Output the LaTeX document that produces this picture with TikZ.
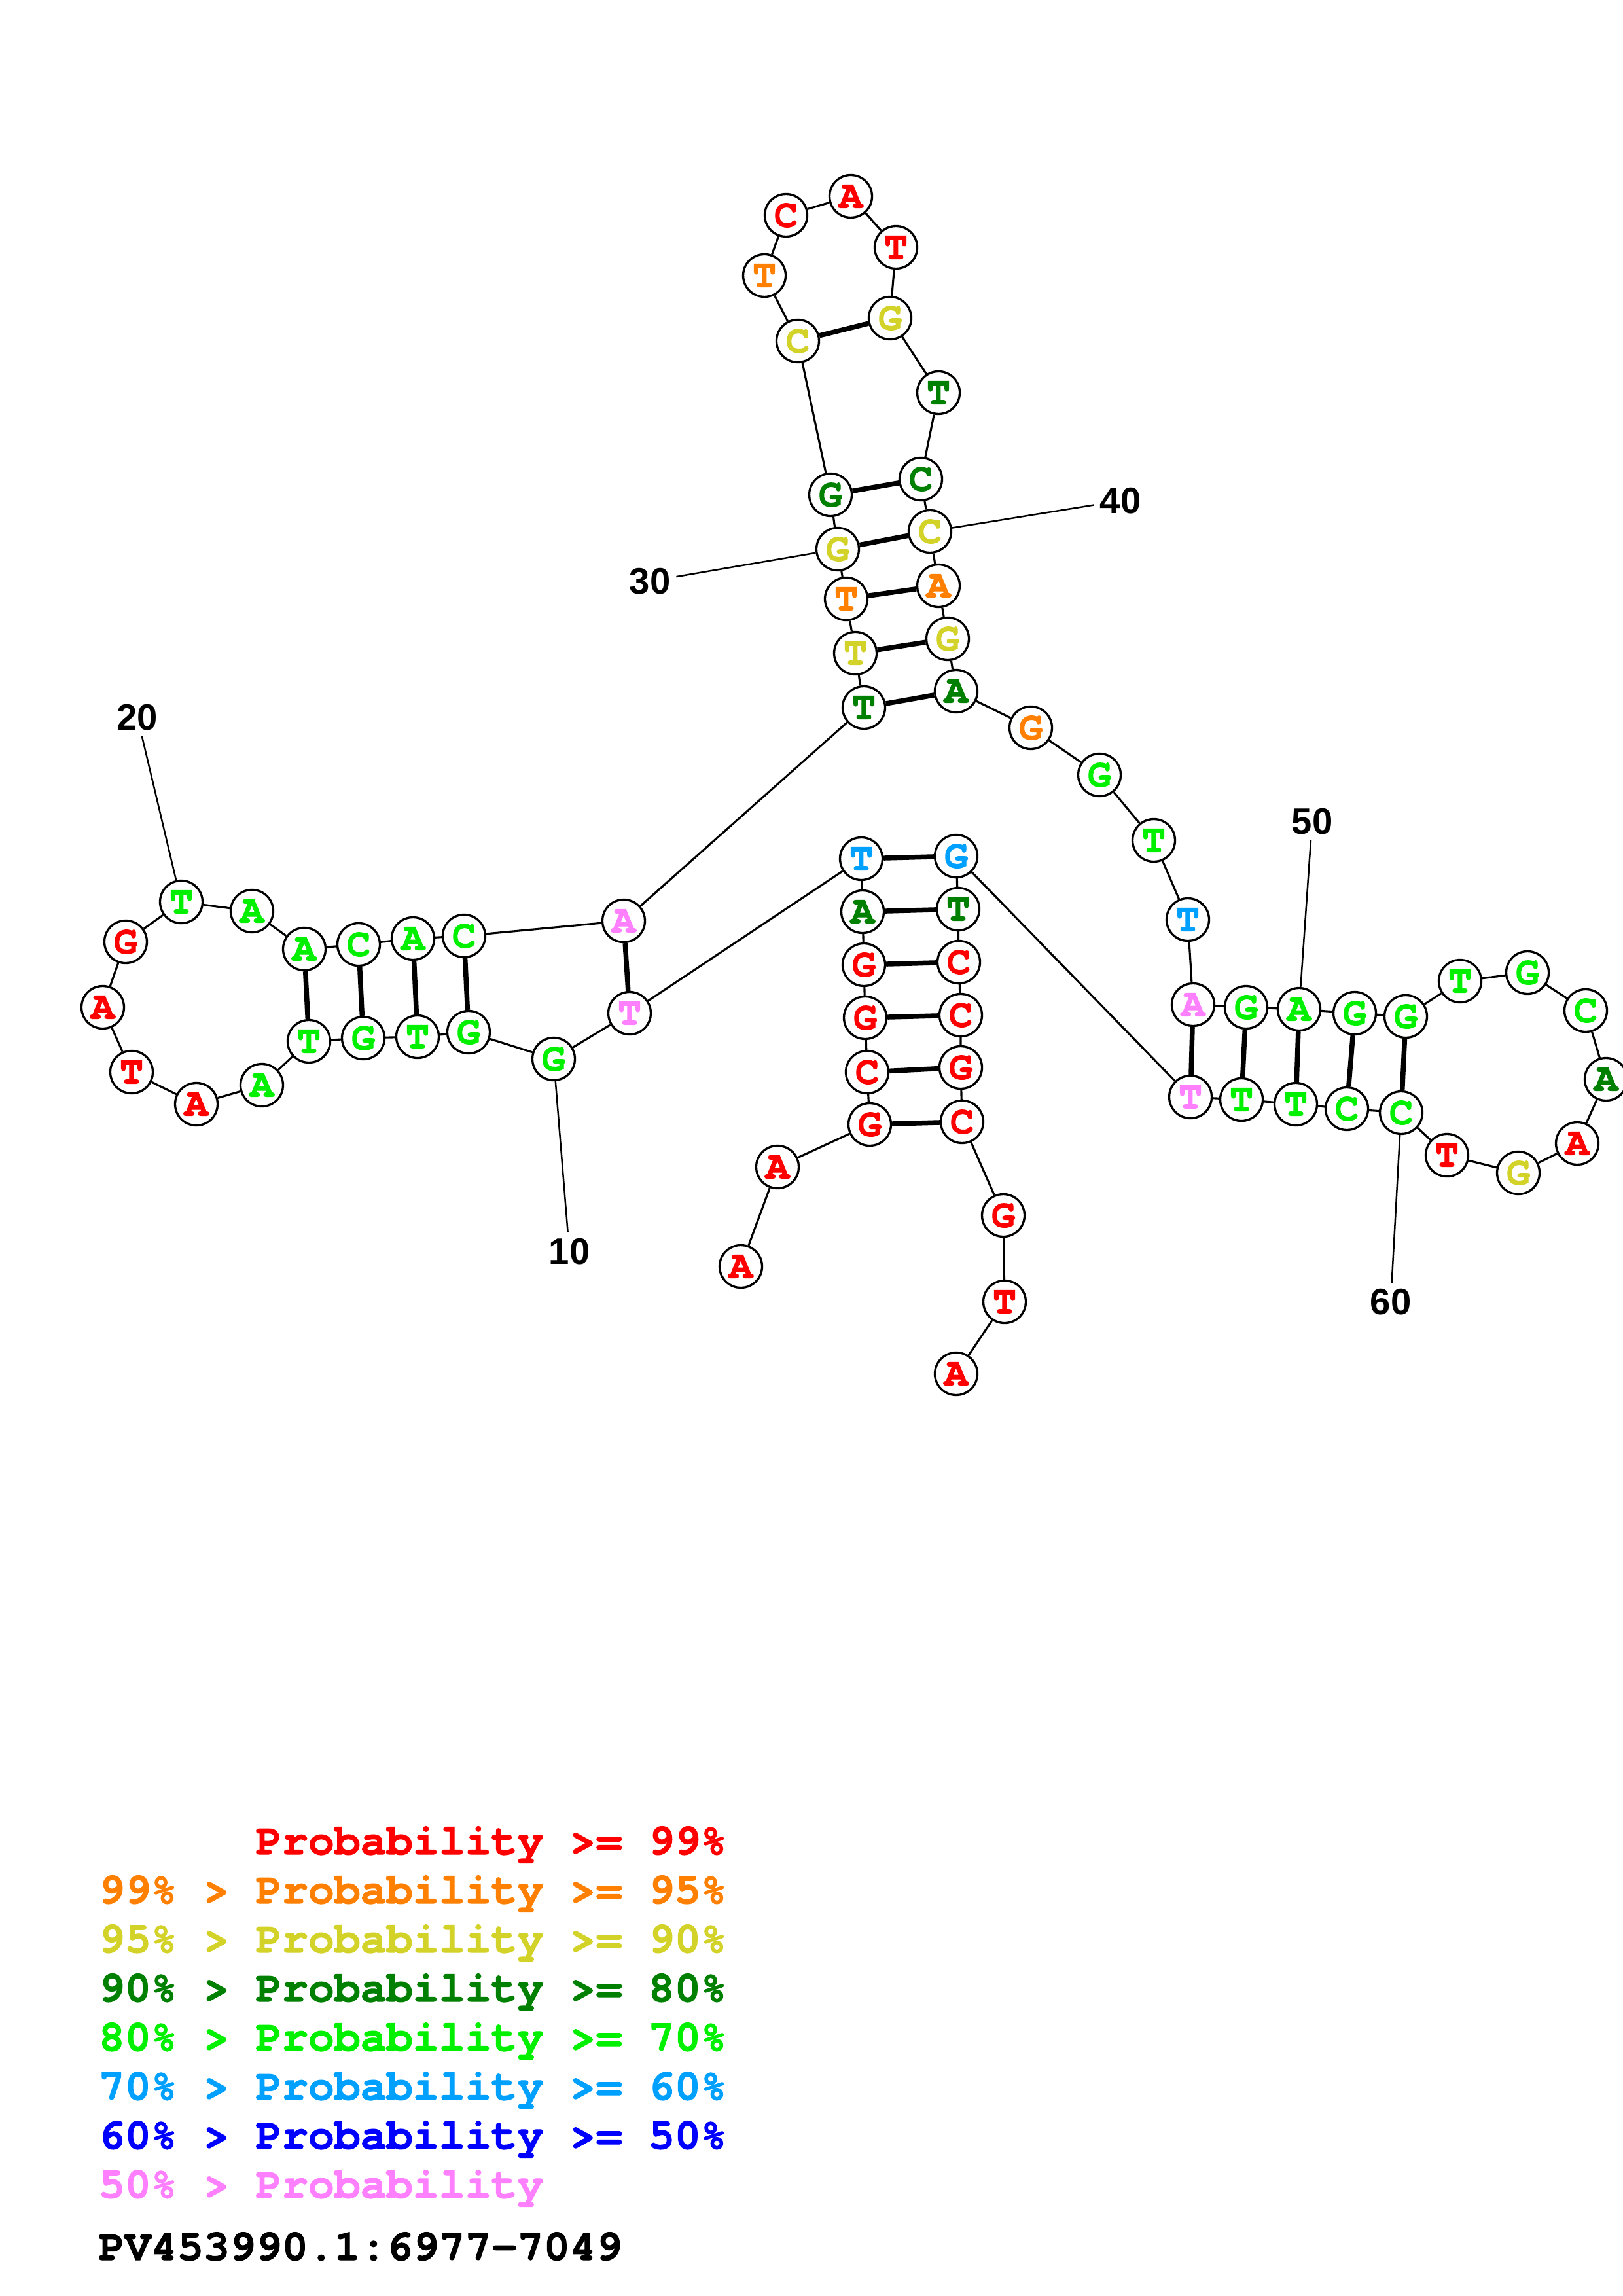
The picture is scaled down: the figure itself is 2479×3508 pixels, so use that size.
\documentclass[tikz,border=0pt]{standalone}
\usepackage{fontspec}
\newfontfamily\curfont{texgyrecursor-bold.otf}[FakeBold=1.6]
\newfontfamily\numfont{Liberation Sans}

\definecolor{prRed}{RGB}{255,0,0}
\definecolor{prOrange}{RGB}{255,128,0}
\definecolor{prYellow}{RGB}{210,210,40}
\definecolor{prDkGreen}{RGB}{0,128,0}
\definecolor{prGreen}{RGB}{0,240,0}
\definecolor{prSky}{RGB}{0,160,255}
\definecolor{prBlue}{RGB}{0,0,255}
\definecolor{prPink}{RGB}{255,128,255}

\begin{document}
\begin{tikzpicture}[x=0.24pt, y=-0.24pt,
  base/.style={circle, draw, line width=0.8pt, fill=white, minimum size=15.6pt, inner sep=0pt,
    font=\curfont\fontsize{14.5}{16}\selectfont},
  chain/.style={line width=0.75pt},
  bond/.style={line width=1.8pt},
  tick/.style={line width=0.6pt},
  num/.style={font=\numfont\bfseries\fontsize{13.5}{15}\selectfont, inner sep=2pt},
  key/.style={anchor=base west, inner sep=0pt, font=\curfont\fontsize{16}{18}\selectfont}]

\useasboundingbox (0,0) rectangle (2479,3508);

\node[base,text=prRed] (b1) at (1132,1935) {A};
\node[base,text=prRed] (b2) at (1188,1783) {A};
\node[base,text=prRed] (b3) at (1329,1718) {G};
\node[base,text=prRed] (b4) at (1325,1638) {C};
\node[base,text=prRed] (b5) at (1322,1555) {G};
\node[base,text=prRed] (b6) at (1320,1474) {G};
\node[base,text=prDkGreen] (b7) at (1318,1393) {A};
\node[base,text=prSky] (b8) at (1316,1312) {T};
\node[base,text=prPink] (b9) at (962,1548) {T};
\node[base,text=prGreen] (b10) at (846,1618) {G};
\node[base,text=prGreen] (b11) at (716,1577) {G};
\node[base,text=prGreen] (b12) at (638,1584) {T};
\node[base,text=prGreen] (b13) at (555,1586) {G};
\node[base,text=prGreen] (b14) at (472,1591) {T};
\node[base,text=prGreen] (b15) at (400,1658) {A};
\node[base,text=prRed] (b16) at (300,1687) {A};
\node[base,text=prRed] (b17) at (201,1638) {T};
\node[base,text=prRed] (b18) at (157,1539) {A};
\node[base,text=prRed] (b19) at (192,1439) {G};
\node[base,text=prGreen] (b20) at (277,1378) {T};
\node[base,text=prGreen] (b21) at (385,1392) {A};
\node[base,text=prGreen] (b22) at (465,1450) {A};
\node[base,text=prGreen] (b23) at (548,1443) {C};
\node[base,text=prGreen] (b24) at (631,1434) {A};
\node[base,text=prGreen] (b25) at (709,1430) {C};
\node[base,text=prPink] (b26) at (953,1407) {A};
\node[base,text=prDkGreen] (b27) at (1320,1081) {T};
\node[base,text=prYellow] (b28) at (1307,998) {T};
\node[base,text=prOrange] (b29) at (1293,915) {T};
\node[base,text=prYellow] (b30) at (1280,839) {G};
\node[base,text=prDkGreen] (b31) at (1269,756) {G};
\node[base,text=prYellow] (b32) at (1219,521) {C};
\node[base,text=prOrange] (b33) at (1168,421) {T};
\node[base,text=prRed] (b34) at (1201,329) {C};
\node[base,text=prRed] (b35) at (1300,300) {A};
\node[base,text=prRed] (b36) at (1369,378) {T};
\node[base,text=prYellow] (b37) at (1360,486) {G};
\node[base,text=prDkGreen] (b38) at (1434,600) {T};
\node[base,text=prDkGreen] (b39) at (1407,732) {C};
\node[base,text=prYellow] (b40) at (1421,812) {C};
\node[base,text=prOrange] (b41) at (1434,895) {A};
\node[base,text=prYellow] (b42) at (1448,976) {G};
\node[base,text=prDkGreen] (b43) at (1461,1056) {A};
\node[base,text=prOrange] (b44) at (1575,1112) {G};
\node[base,text=prGreen] (b45) at (1680,1184) {G};
\node[base,text=prGreen] (b46) at (1763,1284) {T};
\node[base,text=prSky] (b47) at (1815,1405) {T};
\node[base,text=prPink] (b48) at (1823,1535) {A};
\node[base,text=prGreen] (b49) at (1904,1539) {G};
\node[base,text=prGreen] (b50) at (1985,1542) {A};
\node[base,text=prGreen] (b51) at (2070,1548) {G};
\node[base,text=prGreen] (b52) at (2148,1553) {G};
\node[base,text=prGreen] (b53) at (2231,1499) {T};
\node[base,text=prGreen] (b54) at (2334,1486) {G};
\node[base,text=prGreen] (b55) at (2423,1544) {C};
\node[base,text=prDkGreen] (b56) at (2454,1649) {A};
\node[base,text=prRed] (b57) at (2410,1747) {A};
\node[base,text=prYellow] (b58) at (2320,1792) {G};
\node[base,text=prRed] (b59) at (2211,1765) {T};
\node[base,text=prGreen] (b60) at (2141,1700) {C};
\node[base,text=prGreen] (b61) at (2058,1694) {C};
\node[base,text=prGreen] (b62) at (1980,1687) {T};
\node[base,text=prGreen] (b63) at (1897,1680) {T};
\node[base,text=prPink] (b64) at (1819,1676) {T};
\node[base,text=prSky] (b65) at (1461,1308) {G};
\node[base,text=prDkGreen] (b66) at (1464,1389) {T};
\node[base,text=prRed] (b67) at (1465,1470) {C};
\node[base,text=prRed] (b68) at (1468,1551) {C};
\node[base,text=prRed] (b69) at (1468,1631) {G};
\node[base,text=prRed] (b70) at (1470,1714) {C};
\node[base,text=prRed] (b71) at (1533,1857) {G};
\node[base,text=prRed] (b72) at (1535,1989) {T};
\node[base,text=prRed] (b73) at (1461,2099) {A};

\draw[chain] (b1) -- (b2) -- (b3) -- (b4) -- (b5) -- (b6) -- (b7) -- (b8) -- (b9) -- (b10)
  -- (b11) -- (b12) -- (b13) -- (b14) -- (b15) -- (b16) -- (b17) -- (b18) -- (b19) -- (b20)
  -- (b21) -- (b22) -- (b23) -- (b24) -- (b25) -- (b26) -- (b27) -- (b28) -- (b29) -- (b30)
  -- (b31) -- (b32) -- (b33) -- (b34) -- (b35) -- (b36) -- (b37) -- (b38) -- (b39) -- (b40)
  -- (b41) -- (b42) -- (b43) -- (b44) -- (b45) -- (b46) -- (b47) -- (b48) -- (b49) -- (b50)
  -- (b51) -- (b52) -- (b53) -- (b54) -- (b55) -- (b56) -- (b57) -- (b58) -- (b59) -- (b60)
  -- (b61) -- (b62) -- (b63) -- (b64) -- (b65) -- (b66) -- (b67) -- (b68) -- (b69) -- (b70)
  -- (b71) -- (b72) -- (b73);

\draw[bond] (b3) -- (b70);
\draw[bond] (b4) -- (b69);
\draw[bond] (b5) -- (b68);
\draw[bond] (b6) -- (b67);
\draw[bond] (b7) -- (b66);
\draw[bond] (b8) -- (b65);
\draw[bond] (b9) -- (b26);
\draw[bond] (b11) -- (b25);
\draw[bond] (b12) -- (b24);
\draw[bond] (b13) -- (b23);
\draw[bond] (b14) -- (b22);
\draw[bond] (b27) -- (b43);
\draw[bond] (b28) -- (b42);
\draw[bond] (b29) -- (b41);
\draw[bond] (b30) -- (b40);
\draw[bond] (b31) -- (b39);
\draw[bond] (b32) -- (b37);
\draw[bond] (b48) -- (b64);
\draw[bond] (b49) -- (b63);
\draw[bond] (b50) -- (b62);
\draw[bond] (b51) -- (b61);
\draw[bond] (b52) -- (b60);

\node[num] (l10) at (870,1912) {10};
\node[num] (l20) at (210,1096) {20};
\node[num] (l30) at (993,888) {30};
\node[num] (l40) at (1712,765) {40};
\node[num] (l50) at (2005,1255) {50};
\node[num] (l60) at (2125,1989) {60};
\draw[tick] (b10) -- (l10);
\draw[tick] (b20) -- (l20);
\draw[tick] (b30) -- (l30);
\draw[tick] (b40) -- (l40);
\draw[tick] (b50) -- (l50);
\draw[tick] (b60) -- (l60);

\node[key,text=prRed] (key1) at (150,2833) {\hphantom{99\% > }Probability >= 99\%};
\node[key,text=prOrange] (key2) at (150,2908) {99\% > Probability >= 95\%};
\node[key,text=prYellow] (key3) at (150,2983) {95\% > Probability >= 90\%};
\node[key,text=prDkGreen] (key4) at (150,3058) {90\% > Probability >= 80\%};
\node[key,text=prGreen] (key5) at (150,3133) {80\% > Probability >= 70\%};
\node[key,text=prSky] (key6) at (150,3208) {70\% > Probability >= 60\%};
\node[key,text=prBlue] (key7) at (150,3283) {60\% > Probability >= 50\%};
\node[key,text=prPink] (key8) at (150,3358) {50\% > Probability};
\node[key] (seqid) at (150,3453) {PV453990.1:6977-7049};

\end{tikzpicture}
\end{document}
